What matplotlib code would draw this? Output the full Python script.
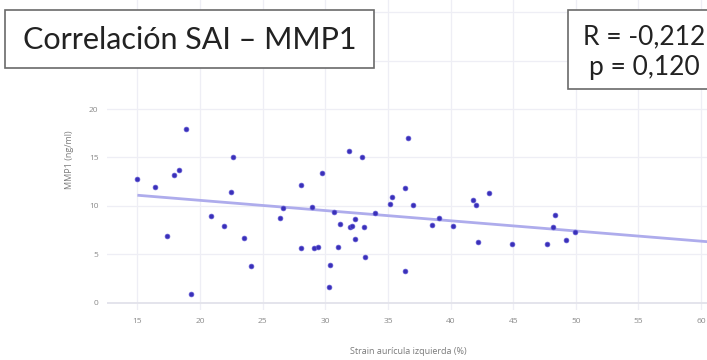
import numpy as np
import matplotlib.pyplot as plt
from matplotlib.patches import Rectangle

# === DATA ===
strain_ai = [15.0, 16.4, 17.4, 17.9, 18.3, 18.9, 19.3, 20.9, 21.9, 22.6,
             22.5, 23.5, 24.1, 26.4, 26.6, 28.1, 28.1, 28.9, 29.1, 29.4,
             29.7, 30.3, 30.4, 30.7, 31.0, 31.2, 31.9, 32.0, 32.1, 32.4,
             32.4, 32.9, 33.1, 33.2, 34.0, 35.2, 35.3, 36.4, 36.4, 36.6,
             37.0, 38.5, 39.1, 40.2, 41.8, 42.0, 42.2, 43.1, 44.9, 47.7,
             48.3, 48.2, 49.2, 49.9]
mmp1 = [12.8, 12.0, 6.9, 13.2, 13.7, 17.9, 0.9, 9.0, 7.9, 15.1,
        11.4, 6.7, 3.8, 8.7, 9.8, 12.2, 5.6, 9.9, 5.6, 5.8,
        13.4, 1.6, 3.9, 9.4, 5.7, 8.1, 15.7, 7.8, 7.9, 8.6,
        6.6, 15.0, 7.8, 4.7, 9.3, 10.2, 10.9, 11.8, 3.3, 17.0,
        10.1, 8.0, 8.7, 7.9, 10.6, 10.1, 6.3, 11.3, 6.1, 6.1,
        9.1, 7.8, 6.5, 7.3]

# fitted line
fit_x = [15, 61]
fit_slope = -0.1055
fit_intercept = 12.68

x_ticks = [15, 20, 25, 30, 35, 40, 45, 50, 55, 60]
y_ticks = [0, 5, 10, 15, 20, 25, 30]

title = "Correlación SAI – MMP1"
stats_text = "R = -0,212\np = 0,120"
x_label = "Strain aurícula izquierda (%)"
y_label = "MMP1 (ng/ml)"

# === PLOT ===
W, H = 707, 360
fig = plt.figure(figsize=(W / 100, H / 100), dpi=100)
fig.patch.set_facecolor("white")

ax = fig.add_axes([106.7 / W, 1 - 310 / H, 1 - 106.7 / W, 310 / H])
ax.set_xlim(12.55, 60.47)
ax.set_ylim(-0.76, 31.27)

grid_col = "#eeeef5"
for v in x_ticks:
    ax.axvline(v, color=grid_col, lw=0.9, zorder=0)
for v in y_ticks:
    ax.axhline(v, color="#e2e2ea" if v == 0 else grid_col,
               lw=1.3 if v == 0 else 0.9, zorder=0)

for s in ax.spines.values():
    s.set_visible(False)
ax.set_xticks(x_ticks)
ax.set_yticks(y_ticks)
ax.tick_params(length=0, labelsize=6, labelcolor="#8a8a8a", pad=6)
for lab in ax.get_xticklabels() + ax.get_yticklabels():
    lab.set_family("Open Sans")

fx = np.array(fit_x, dtype=float)
ax.plot(fx, fit_intercept + fit_slope * fx, color="#aeacec", lw=2.0,
        solid_capstyle="butt", zorder=2)
ax.scatter(strain_ai, mmp1, s=12, color="#3a30b8", edgecolors="#6058d4",
           linewidths=0.5, zorder=3)

fig.text(408 / W, 1 - 352 / H, x_label, ha="center", va="center",
         fontsize=6.5, color="#7a7a7a", family="Open Sans")
fig.text(70 / W, 1 - 160 / H, y_label, ha="center", va="center",
         rotation=90, fontsize=6.5, color="#7a7a7a", family="Open Sans")

# overlay boxes
fig.patches.append(Rectangle((5 / W, 1 - 68 / H), 369 / W, 58 / H,
                             transform=fig.transFigure, facecolor="white",
                             edgecolor="#6a6a6a", lw=1.2, zorder=5))
fig.text(190 / W, 1 - 40 / H, title, ha="center", va="center",
         fontsize=22, color="#222222", family="Lato", zorder=6)

fig.patches.append(Rectangle((568 / W, 1 - 89 / H), 150 / W, 79 / H,
                             transform=fig.transFigure, facecolor="white",
                             edgecolor="#6a6a6a", lw=1.2, zorder=5))
fig.text(644 / W, 1 - 52 / H, stats_text, ha="center", va="center",
         fontsize=19, color="#222222", family="Lato", linespacing=1.3,
         zorder=6)

fig.savefig("out.png", dpi=100)
